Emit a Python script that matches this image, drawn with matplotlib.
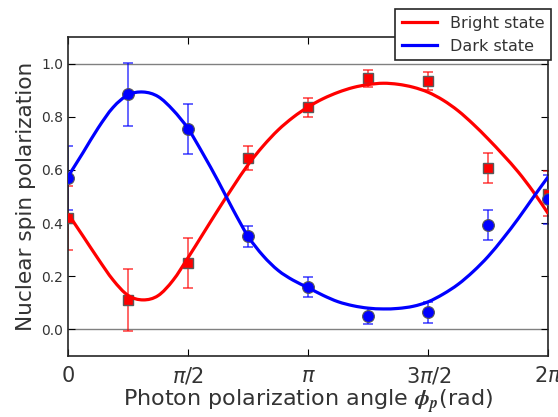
import numpy as np
import matplotlib
matplotlib.use('Agg')
import matplotlib.pyplot as plt
from matplotlib.path import Path
from matplotlib.patches import PathPatch

# measurement angles in units of pi/4
pt_quarters = [0, 1, 2, 3, 4, 5, 6, 7, 8]
bright_vals = [0.42, 0.11, 0.25, 0.645, 0.835, 0.945, 0.935, 0.607, 0.51]
bright_err = [0.12, 0.117, 0.094, 0.045, 0.035, 0.032, 0.035, 0.056, 0.085]
dark_vals = [0.57, 0.884, 0.753, 0.35, 0.16, 0.052, 0.064, 0.393, 0.49]
dark_err = [0.12, 0.12, 0.094, 0.04, 0.037, 0.03, 0.04, 0.058, 0.092]

# fit curves, angles in units of pi/16
fit_sixteenths = list(range(33))
bright_fit = [0.435, 0.351, 0.266, 0.186, 0.128, 0.111, 0.127, 0.185, 0.27,
              0.36, 0.45, 0.537, 0.62, 0.69, 0.75, 0.798, 0.837, 0.868,
              0.892, 0.91, 0.921, 0.926, 0.922, 0.911, 0.892, 0.862, 0.822,
              0.772, 0.716, 0.656, 0.592, 0.518, 0.435]
dark_fit = [0.575, 0.665, 0.757, 0.835, 0.882, 0.893, 0.876, 0.825, 0.755,
            0.66, 0.558, 0.45, 0.35, 0.277, 0.222, 0.185, 0.157, 0.128,
            0.104, 0.089, 0.08, 0.077, 0.079, 0.087, 0.104, 0.133, 0.17,
            0.218, 0.275, 0.343, 0.417, 0.497, 0.575]

xtick_labels = ['0', r'$\pi/2$', r'$\pi$', r'$3\pi/2$', r'$2\pi$']


def smooth_path(xs, ys):
    # bezier path through the read points (catmull-rom tangents)
    p = np.column_stack([xs, ys])
    p = np.vstack([p[0], p, p[-1]])
    verts = [p[1]]
    codes = [Path.MOVETO]
    for i in range(1, len(p) - 2):
        c1 = p[i] + (p[i + 1] - p[i - 1]) / 6
        c2 = p[i + 1] - (p[i + 2] - p[i]) / 6
        verts += [c1, c2, p[i + 1]]
        codes += [Path.CURVE4] * 3
    return Path(verts, codes)


plt.rcParams['xtick.direction'] = 'in'
plt.rcParams['ytick.direction'] = 'in'
plt.rcParams['xtick.top'] = True
plt.rcParams['ytick.right'] = True
plt.rcParams['xtick.major.size'] = 5
plt.rcParams['ytick.major.size'] = 5

fig = plt.figure(figsize=(5.58, 4.17), dpi=100)
ax = fig.add_axes([0.1219, 0.1463, 0.8607, 0.765])

x_pts = np.array(pt_quarters) * np.pi / 4
x_fit = np.array(fit_sixteenths) * np.pi / 16

ax.axhline(0.0, color='0.5', lw=1, zorder=1)
ax.axhline(1.0, color='0.5', lw=1, zorder=1)

ax.errorbar(x_pts, bright_vals, yerr=bright_err, fmt='none', ecolor='red',
            alpha=0.7, elinewidth=1.2, capsize=3.5, capthick=1.2, zorder=2)
ax.errorbar(x_pts, dark_vals, yerr=dark_err, fmt='none', ecolor='blue',
            alpha=0.7, elinewidth=1.2, capsize=3.5, capthick=1.2, zorder=2)

ax.plot(x_pts, bright_vals, 's', color='red', ms=7.5, mec='0.35', mew=1,
        zorder=3)
ax.plot(x_pts, dark_vals, 'o', color='blue', ms=8.5, mec='0.35', mew=0.8,
        zorder=3)

ax.add_patch(PathPatch(smooth_path(x_fit, bright_fit), fill=False,
                       edgecolor='red', lw=2.3, zorder=4))
ax.add_patch(PathPatch(smooth_path(x_fit, dark_fit), fill=False,
                       edgecolor='blue', lw=2.3, zorder=4))
ax.plot([], [], color='red', lw=2.3, label='Bright state')
ax.plot([], [], color='blue', lw=2.3, label='Dark state')

ax.set_xlim(0, 2 * np.pi)
ax.set_ylim(-0.1, 1.1)
ax.set_xticks(np.array([0, 1, 2, 3, 4]) * np.pi / 2)
ax.set_xticklabels(xtick_labels, fontsize=15, color='0.2')
ax.set_yticks([0.0, 0.2, 0.4, 0.6, 0.8, 1.0])
ax.set_yticklabels(['0.0', '0.2', '0.4', '0.6', '0.8', '1.0'], fontsize=10,
                   color='0.2')
ax.tick_params(axis='x', pad=7)

xl = ax.set_xlabel(r'Photon polarization angle $\mathbfit{\phi_p}$(rad)',
                   fontsize=16, color='0.2', labelpad=1)
xl.set_math_fontfamily('stix')
ax.set_ylabel('Nuclear spin polarization', fontsize=15.6, color='0.2')

for s in ax.spines.values():
    s.set_linewidth(1.2)
    s.set_color('0.15')

leg = ax.legend(loc='upper right', bbox_to_anchor=(1.005, 1.087),
                borderaxespad=0, fontsize=11.5, handlelength=2.2,
                fancybox=False, framealpha=1, edgecolor='0.15')
leg.get_frame().set_linewidth(1.2)
for t in leg.get_texts():
    t.set_color('0.2')
leg.set_zorder(10)

fig.savefig('out.png', dpi=100)
